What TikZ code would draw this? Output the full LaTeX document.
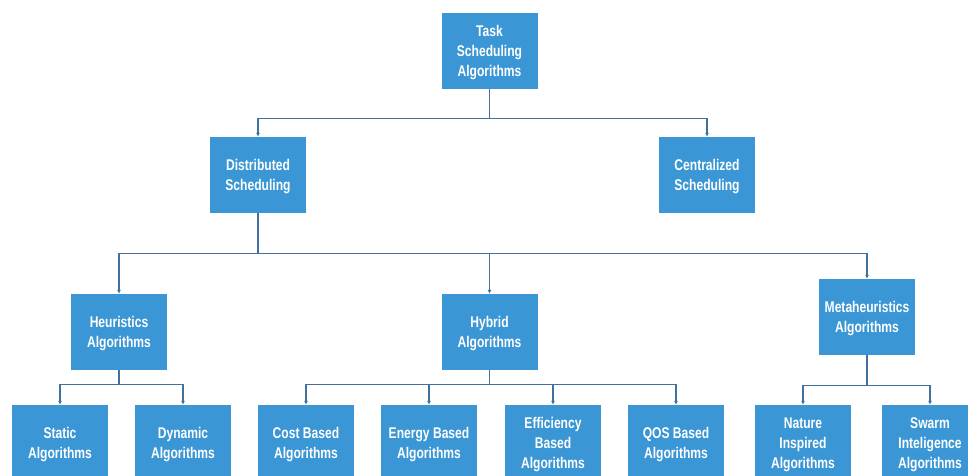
\documentclass[tikz,border=0pt]{standalone}
\usepackage{fontspec}
\newfontfamily\boxfont[FakeStretch=0.78]{Liberation Sans}
\usetikzlibrary{arrows.meta}
\definecolor{boxblue}{HTML}{3A96D4}
\definecolor{linkblue}{HTML}{41719C}

\begin{document}
\begin{tikzpicture}[x=1pt,y=-1pt,
  algobox/.style={fill=boxblue, text=white, minimum width=96pt, minimum height=76pt,
    inner sep=0pt, align=center, text depth=-2.5pt,
    font=\boxfont\bfseries\fontsize{15.5}{20}\selectfont},
  link/.style={draw=linkblue, line width=1.1pt, -{Latex[length=4pt,width=4pt]}}]
\useasboundingbox (0,0) rectangle (968,475);
\clip (0,0) rectangle (968,475);
% top level
\node[algobox] (task) at (489.5,51) {Task\\Scheduling\\Algorithms};
\node[algobox] (dist) at (258,175) {Distributed\\Scheduling};
\node[algobox] (cent) at (707,175) {Centralized\\Scheduling};
% second level
\node[algobox] (heur) at (119,332) {Heuristics\\Algorithms};
\node[algobox] (hybrid) at (489.5,332) {Hybrid\\Algorithms};
\node[algobox] (meta) at (867,317) {Metaheuristics\\Algorithms};
% leaves
\node[algobox] (static) at (60,443) {Static\\Algorithms};
\node[algobox] (dynamic) at (183,443) {Dynamic\\Algorithms};
\node[algobox] (cost) at (306,443) {Cost Based\\Algorithms};
\node[algobox] (energy) at (429,443) {Energy Based\\Algorithms};
\node[algobox] (effic) at (553,443) {Efficiency\\Based\\Algorithms};
\node[algobox] (qos) at (676,443) {QOS Based\\Algorithms};
\node[algobox] (nature) at (803,443) {Nature\\Inspired\\Algorithms};
\node[algobox] (swarm) at (930,443) {Swarm\\Inteligence\\Algorithms};
% connectors
\draw[link] (task.south) -- ++(0,29) -| (dist.north);
\draw[link] (task.south) -- ++(0,29) -| (cent.north);
\foreach \child in {heur,hybrid,meta}
  \draw[link] (dist.south) -- ++(0,40) -| (\child.north);
\foreach \child in {static,dynamic}
  \draw[link] (heur.south) -- ++(0,14) -| (\child.north);
\foreach \child in {cost,energy,effic,qos}
  \draw[link] (hybrid.south) -- ++(0,14) -| (\child.north);
\foreach \child in {nature,swarm}
  \draw[link] (meta.south) -- ++(0,30) -| (\child.north);
\end{tikzpicture}
\end{document}
